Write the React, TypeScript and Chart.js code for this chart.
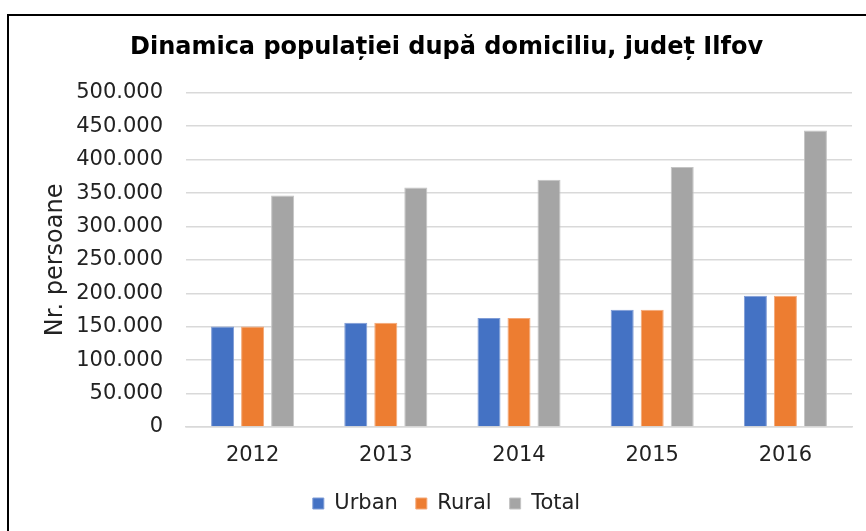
import React, { useEffect, useRef } from "react";
import { Chart, registerables } from "chart.js";

Chart.register(...registerables);

const categories = ["2012", "2013", "2014", "2015", "2016"];
const urbanValues = [150500, 156000, 163000, 175500, 196500];
const ruralValues = [150500, 156000, 163000, 175500, 196500];
const totalValues = [346500, 358500, 370000, 389000, 443500];
const seriesNames = ["Urban", "Rural", "Total"];
const titleText = "Dinamica populației după domiciliu, județ Ilfov";
const yAxisTitle = "Nr. persoane";

const FONT = "'DejaVu Sans', Verdana, sans-serif";

function fmt(v: number): string {
  return String(Math.round(v)).replace(/\B(?=(\d{3})+(?!\d))/g, ".");
}

export default function App() {
  const ref = useRef<HTMLCanvasElement | null>(null);

  useEffect(() => {
    document.body.style.margin = "0";
    document.body.style.overflow = "hidden";
    const ctx = ref.current;
    if (!ctx) return;
    const chart = new Chart(ctx, {
      type: "bar",
      data: {
        labels: categories,
        datasets: [
          { label: seriesNames[0], data: urbanValues, backgroundColor: "#4472C4", borderColor: "#7f9cd6", borderWidth: 1 },
          { label: seriesNames[1], data: ruralValues, backgroundColor: "#ED7D31", borderColor: "#f4a877", borderWidth: 1 },
          { label: seriesNames[2], data: totalValues, backgroundColor: "#A5A5A5", borderColor: "#c4c4c4", borderWidth: 1 },
        ],
      },
      options: {
        responsive: false,
        animation: false,
        maintainAspectRatio: false,
        datasets: { bar: { categoryPercentage: 0.676, barPercentage: 0.767 } },
        layout: { padding: { left: 41, right: 14, top: 33, bottom: 7 } },
        plugins: {
          title: {
            display: true,
            text: titleText,
            color: "#000",
            font: { family: FONT, size: 24, weight: "bold" },
            padding: { top: 0, bottom: 31 },
          },
          legend: {
            position: "bottom",
            labels: {
              color: "#222",
              font: { family: FONT, size: 21 },
              boxWidth: 11,
              boxHeight: 11,
              padding: 18,
            },
          },
          tooltip: { enabled: false },
        },
        scales: {
          x: {
            grid: { display: false, drawTicks: false },
            border: { display: true, color: "#d9d9d9", width: 1.5 },
            ticks: { color: "#222", font: { family: FONT, size: 21 }, padding: 16 },
            afterFit: (s: any) => { s.height = 48; },
          },
          y: {
            min: 0,
            max: 500000,
            ticks: {
              stepSize: 50000,
              color: "#222",
              font: { family: FONT, size: 21 },
              padding: 23,
              callback: (v: any) => fmt(Number(v)),
            },
            grid: { color: "#d9d9d9", lineWidth: 1.5, drawTicks: false },
            border: { display: false },
            title: {
              display: true,
              text: yAxisTitle,
              color: "#222",
              font: { family: FONT, size: 24 },
              padding: { top: 0, bottom: 6.6 },
            },
            afterFit: (s: any) => { s.width = 145; },
          },
        },
      },
    });
    return () => chart.destroy();
  }, []);

  return (
    <div style={{ position: "fixed", left: 0, top: 0, width: 866, height: 531, overflow: "hidden", background: "#fff" }}>
      <div
        style={{
          position: "absolute",
          left: 7,
          top: 14,
          width: 1000,
          height: 1000,
          borderLeft: "2px solid #000",
          borderTop: "2px solid #000",
        }}
      />
      <canvas ref={ref} width={866} height={531} style={{ position: "absolute", left: 0, top: 0 }} />
    </div>
  );
}
